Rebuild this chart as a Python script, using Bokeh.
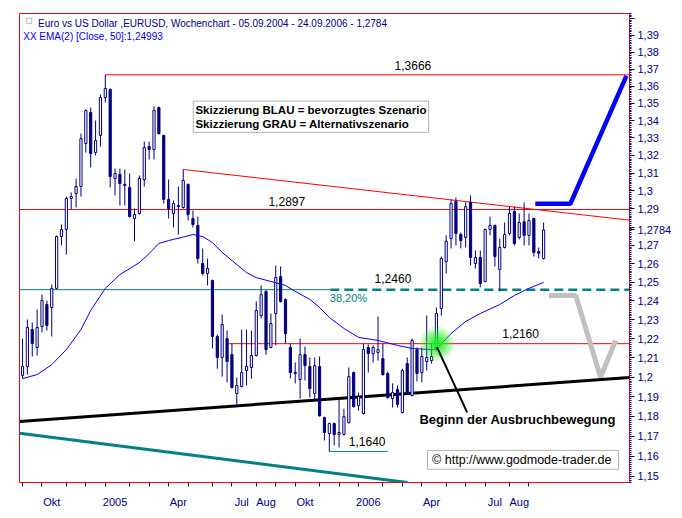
import numpy as np
import pandas as pd
from bokeh.plotting import figure
from bokeh.models import FixedTicker, Label, Range1d, BoxAnnotation
from bokeh.embed import file_html
from bokeh.resources import INLINE

# ---------------- data ----------------
week_start = "2004-09-05"
opens = [1.2008, 1.2055, 1.2248, 1.2154, 1.2264, 1.2381, 1.2365, 1.2467, 1.2748, 1.2787,
         1.2958, 1.2986, 1.3025, 1.3268, 1.3446, 1.3217, 1.3314, 1.3533, 1.3580, 1.3070,
         1.3093, 1.3037, 1.3020, 1.2847, 1.2875, 1.3064, 1.3251, 1.3234, 1.3475, 1.3314,
         1.2953, 1.2875, 1.2913, 1.2908, 1.3037, 1.2847, 1.2809, 1.2601, 1.2547, 1.2509,
         1.2212, 1.2102, 1.2201, 1.2117, 1.1916, 1.1952, 1.2034, 1.2050, 1.2112, 1.2322,
         1.2451, 1.2154, 1.2333, 1.2530, 1.2408, 1.2154, 1.2024, 1.1988, 1.2117, 1.2055,
         1.1916, 1.2055, 1.1793, 1.1713, 1.1763, 1.1708, 1.1708, 1.1768, 1.2024, 1.1854,
         1.1814, 1.2154, 1.2122, 1.2128, 1.2096, 1.2019, 1.1890, 1.1936, 1.1819, 1.2070,
         1.1906, 1.2143, 1.2024, 1.2081, 1.2086, 1.2143, 1.2360, 1.2612, 1.2737, 1.2941,
         1.2759, 1.2743, 1.2936, 1.2601, 1.2634, 1.2504, 1.2787, 1.2809, 1.2569, 1.2688,
         1.2765, 1.2886, 1.2743, 1.2830, 1.2754, 1.2847, 1.2666, 1.2628]
highs = [1.2201, 1.2301, 1.2285, 1.2354, 1.2434, 1.2402, 1.2488, 1.2754, 1.2814, 1.2969,
         1.2992, 1.3070, 1.3325, 1.3464, 1.3475, 1.3400, 1.3551, 1.3666, 1.3586, 1.3126,
         1.3126, 1.3121, 1.3098, 1.2902, 1.3087, 1.3279, 1.3279, 1.3481, 1.3481, 1.3319,
         1.3064, 1.2947, 1.3025, 1.3121, 1.3042, 1.2891, 1.2858, 1.2683, 1.2628, 1.2514,
         1.2222, 1.2328, 1.2243, 1.2175, 1.1998, 1.2248, 1.2248, 1.2243, 1.2397, 1.2483,
         1.2456, 1.2333, 1.2590, 1.2585, 1.2413, 1.2175, 1.2076, 1.2201, 1.2159, 1.2102,
         1.2102, 1.2107, 1.1798, 1.1768, 1.1768, 1.1885, 1.1839, 1.2050, 1.2029, 1.1921,
         1.2175, 1.2170, 1.2165, 1.2317, 1.2175, 1.2029, 1.1968, 1.1957, 1.2044, 1.2102,
         1.2201, 1.2154, 1.2154, 1.2322, 1.2175, 1.2365, 1.2639, 1.2754, 1.2953, 1.2964,
         1.2770, 1.2936, 1.2975, 1.2672, 1.2672, 1.2792, 1.2858, 1.2814, 1.2737, 1.2825,
         1.2913, 1.2913, 1.2875, 1.2936, 1.2875, 1.2852, 1.2688, 1.2825]
lows = [1.1993, 1.2013, 1.2107, 1.2112, 1.2233, 1.2243, 1.2212, 1.2461, 1.2699, 1.2650,
        1.2897, 1.2908, 1.2969, 1.3217, 1.3132, 1.3200, 1.3251, 1.3504, 1.3020, 1.2975,
        1.2919, 1.2919, 1.2852, 1.2721, 1.2869, 1.3025, 1.3177, 1.3177, 1.3319, 1.2930,
        1.2847, 1.2798, 1.2759, 1.2902, 1.2836, 1.2798, 1.2601, 1.2536, 1.2483, 1.2149,
        1.2044, 1.2003, 1.1973, 1.1941, 1.1860, 1.1947, 1.1957, 1.1993, 1.2107, 1.2307,
        1.2117, 1.2149, 1.2165, 1.2391, 1.2175, 1.1993, 1.1968, 1.1890, 1.1983, 1.1895,
        1.1880, 1.1798, 1.1678, 1.1625, 1.1653, 1.1643, 1.1703, 1.1763, 1.1844, 1.1829,
        1.1809, 1.2024, 1.2076, 1.2086, 1.2008, 1.1890, 1.1844, 1.1844, 1.1814, 1.1911,
        1.1901, 1.1978, 1.1973, 1.2034, 1.2070, 1.2138, 1.2322, 1.2547, 1.2683, 1.2699,
        1.2683, 1.2688, 1.2590, 1.2574, 1.2472, 1.2499, 1.2754, 1.2585, 1.2451, 1.2683,
        1.2754, 1.2699, 1.2732, 1.2699, 1.2699, 1.2639, 1.2628, 1.2623]
closes = [1.2055, 1.2259, 1.2175, 1.2259, 1.2402, 1.2270, 1.2467, 1.2748, 1.2787, 1.2958,
          1.2969, 1.3025, 1.3296, 1.3458, 1.3211, 1.3285, 1.3533, 1.3586, 1.3081, 1.3098,
          1.3042, 1.3031, 1.2858, 1.2869, 1.3070, 1.3245, 1.3234, 1.3458, 1.3325, 1.2953,
          1.2902, 1.2930, 1.2919, 1.3059, 1.2869, 1.2814, 1.2628, 1.2547, 1.2574, 1.2212,
          1.2102, 1.2275, 1.2081, 1.1947, 1.1957, 1.2024, 1.2055, 1.2112, 1.2349, 1.2434,
          1.2143, 1.2280, 1.2525, 1.2397, 1.2227, 1.2024, 1.2019, 1.2117, 1.2060, 1.1941,
          1.2060, 1.1803, 1.1718, 1.1763, 1.1708, 1.1718, 1.1798, 1.2003, 1.1849, 1.1901,
          1.2143, 1.2122, 1.2154, 1.2143, 1.2013, 1.1895, 1.1921, 1.1860, 1.2034, 1.1916,
          1.2191, 1.2019, 1.2107, 1.2102, 1.2107, 1.2333, 1.2628, 1.2721, 1.2930, 1.2765,
          1.2726, 1.2913, 1.2634, 1.2634, 1.2493, 1.2787, 1.2809, 1.2639, 1.2688, 1.2759,
          1.2875, 1.2710, 1.2825, 1.2754, 1.2836, 1.2661, 1.2656, 1.2784]

# EMA(50) (week index, value)
ema_idx = [0, 3, 6, 9, 12, 14, 17, 20, 24, 26, 28, 30, 33, 35, 37, 39, 41, 43, 46, 48,
           51, 54, 56, 59, 61, 63, 66, 69, 73, 77, 80, 84, 85, 87, 88, 91, 94, 98, 101, 104, 107]
ema_val = [1.1993, 1.2013, 1.2065, 1.2143, 1.2248, 1.2349, 1.2467, 1.2541, 1.2606, 1.2655,
           1.2710, 1.2726, 1.2745, 1.2759, 1.2748, 1.2715, 1.2661, 1.2617, 1.2552, 1.2525,
           1.2504, 1.2483, 1.2451, 1.2408, 1.2365, 1.2312, 1.2254, 1.2207, 1.2191, 1.2165,
           1.2149, 1.2143, 1.2146, 1.2201, 1.2227, 1.2291, 1.2333, 1.2381, 1.2429, 1.2467, 1.2499]

# drawn levels / trend lines (week index, price)
level_high = 1.3666
level_2897 = 1.2897
level_fibo = 1.2460
level_2160 = 1.2174
level_low = 1.1623
resist_x = [33.0, 124.64]
resist_y = [1.3121, 1.2838]
support_x = [-0.62, 124.64]
support_y = [1.1774, 1.1998]
lowteal_x = [-0.62, 79.0]
lowteal_y = [1.1714, 1.14687]
blue_x = [105.3, 112.5, 124.0]
blue_y = [1.2929, 1.2929, 1.3660]
gray_x = [108.1, 113.6, 118.7, 121.8]
gray_y = [1.2429, 1.2429, 1.2000, 1.2191]
arrow_x = [85.1, 91.3]
arrow_y = [1.2156, 1.1820]
glow_x = [85.1]
glow_y = [1.2174]

x_label_months = ["2004-10", "2005-01", "2005-04", "2005-07", "2005-08",
                  "2005-10", "2006-01", "2006-04", "2006-07", "2006-08"]
x_label_texts = ["Okt", "2005", "Apr", "Jul", "Aug", "Okt", "2006", "Apr", "Jul", "Aug"]

y_tick_values = [1.15, 1.16, 1.17, 1.18, 1.19, 1.20, 1.21, 1.22, 1.23, 1.24, 1.25, 1.26,
                 1.27, 1.2784, 1.28, 1.29, 1.30, 1.31, 1.32, 1.33, 1.34, 1.35, 1.36, 1.37,
                 1.38, 1.39, 1.40]
y_tick_labels = ["1,15", "1,16", "1,17", "1,18", "1,19", "1,2", "1,21", "1,22", "1,23", "1,24",
                 "1,25", "1,26", "1,27", "1,2784", "", "1,29", "1,3", "1,31", "1,32", "1,33",
                 "1,34", "1,35", "1,36", "1,37", "1,38", "1,39", ""]

# ---------------- styling ----------------
NAVY = "#000080"
RED = "#ff0000"
TEAL = "#008080"
FONT = "Liberation Sans"

n = len(closes)
dates = pd.date_range(week_start, periods=n, freq="7D")
xs = np.arange(n)

month_first = {}
for i, d in enumerate(dates):
    key = "%04d-%02d" % (d.year, d.month)
    if key not in month_first:
        month_first[key] = i
minor_x = [float(v) for v in month_first.values()]
major_x = [float(month_first[m] + 2) for m in x_label_months]

X0, X1 = -0.62, 124.64
p = figure(frame_width=610, frame_height=469, output_backend="svg", toolbar_location=None,
           y_axis_type="log", y_axis_location="right",
           x_range=Range1d(X0, X1), y_range=Range1d(1.14687, 1.40309),
           min_border_left=19, min_border_top=13, min_border_right=45, min_border_bottom=26,
           background_fill_color="white", border_fill_color="white")
p.outline_line_color = RED
p.outline_line_width = 1
p.xgrid.visible = False
p.ygrid.visible = False

# y axis (right)
ya = p.yaxis[0]
minor_y = [round(v, 3) for v in np.arange(1.147, 1.4035, 0.001)]
ya.ticker = FixedTicker(ticks=y_tick_values, minor_ticks=minor_y)
ya.major_label_overrides = {v: t for v, t in zip(y_tick_values, y_tick_labels)}
ya.axis_line_color = None
ya.major_tick_out = 5
ya.major_tick_in = 0
ya.minor_tick_out = 2
ya.minor_tick_in = 0
ya.major_tick_line_color = NAVY
ya.minor_tick_line_color = NAVY
ya.major_label_standoff = 3
ya.major_label_text_font = FONT
ya.major_label_text_font_size = "11px"
ya.major_label_text_color = NAVY

# x axis
xa = p.xaxis[0]
xa.ticker = FixedTicker(ticks=major_x, minor_ticks=minor_x)
xa.major_label_overrides = {v: t for v, t in zip(major_x, x_label_texts)}
xa.axis_line_color = None
xa.major_tick_line_color = None
xa.major_tick_out = 0
xa.major_tick_in = 0
xa.minor_tick_out = 4
xa.minor_tick_in = 0
xa.minor_tick_line_color = NAVY
xa.major_label_standoff = 9
xa.major_label_text_font = FONT
xa.major_label_text_font_size = "11px"
xa.major_label_text_color = NAVY

# ---------- drawn lines under candles ----------
p.line(lowteal_x, lowteal_y, line_color=TEAL, line_width=3)
p.line(support_x, support_y, line_color="black", line_width=3)
p.line([X0, 63.2], [level_fibo, level_fibo], line_color=TEAL, line_width=1)
p.line([63.2, X1], [level_fibo, level_fibo], line_color=TEAL, line_width=2.5, line_dash="9 5")
p.line([X0, X1], [level_2897, level_2897], line_color=RED, line_width=1)
p.line([17, X1], [level_high, level_high], line_color=RED, line_width=1)
p.line([42, X1], [level_2160, level_2160], line_color=RED, line_width=1)
p.line([62.9, 75.0], [level_low, level_low], line_color=TEAL, line_width=1)
p.line(resist_x, resist_y, line_color=RED, line_width=1)

# ---------- candles ----------
up = [c >= o for o, c in zip(opens, closes)]
tops = [max(o, c) for o, c in zip(opens, closes)]
bots = [min(o, c) for o, c in zip(opens, closes)]
fills = ["white" if u else NAVY for u in up]
p.segment(x0=xs, y0=highs, x1=xs, y1=lows, line_color=NAVY, line_width=1)
p.vbar(x=xs, width=0.45, top=tops, bottom=bots, fill_color=fills, line_color=NAVY, line_width=1)

# EMA
p.line(ema_idx, ema_val, line_color="#0000ff", line_width=1)

# scenario sketches
p.line(blue_x, blue_y, line_color="#0000ff", line_width=4.5)
p.line(gray_x, gray_y, line_color="#c0c0c0", line_width=5)

# green glow
for r, a in [(17, 0.18), (14, 0.22), (11, 0.3), (8, 0.4), (5, 0.6)]:
    p.circle(glow_x, glow_y, radius=r, radius_units="screen",
             fill_color="#22ee22", fill_alpha=a, line_color=None)
p.line(arrow_x, arrow_y, line_color="black", line_width=2)

# ---------- annotations ----------
def lab(x, y, text, size="12px", color="black", style="normal", yoff=0, **kw):
    p.add_layout(Label(x=x, y=y, text=text, text_font=FONT, text_font_size=size,
                       text_color=color, text_font_style=style, text_baseline="middle",
                       y_offset=yoff, **kw))

lab(76.4, level_high, "1,3666", yoff=9)
lab(50.5, level_2897, "1,2897", yoff=8)
lab(72.3, level_fibo, "1,2460", yoff=11)
lab(63.1, level_fibo, "38,20%", size="11px", color=TEAL, yoff=-8)
lab(98.5, level_2160, "1,2160", yoff=10)
lab(67.0, level_low, "1,1640", yoff=10)

p.add_layout(BoxAnnotation(left=35.05, right=83.4, bottom=1.3332, top=1.3512,
                           fill_color="white", fill_alpha=1, line_color="black", line_width=1))
lab(35.5, 1.3458, "Skizzierung BLAU = bevorzugtes Szenario", size="11.5px", style="bold")
lab(35.5, 1.3381, "Skizzierung GRAU = Alternativszenario", size="11.5px", style="bold")

lab(81.5, 1.1783, "Beginn der Ausbruchbewegung", size="13px", style="bold")

p.add_layout(BoxAnnotation(left=83.17, right=122.4, bottom=1.1534, top=1.1628,
                           fill_color="white", fill_alpha=1, line_color="black", line_width=1))
lab(84.1, 1.1580, "\u00a9 http://www.godmode-trader.de", size="12.5px")

# small legend icon before the title
p.add_layout(BoxAnnotation(left=0.75, right=1.9, bottom=1.3972, top=1.4003,
                           fill_color="white", fill_alpha=1, line_color=NAVY, line_width=1))
lab(3.2, 1.3969, "Euro vs US Dollar ,EURUSD, Wochenchart - 05.09.2004 - 24.09.2006 - 1,2784",
    size="10px", color=NAVY)
lab(0.15, 1.3893, "XX EMA(2) [Close, 50]:1,24993", size="10px", color="#0000ff")

open("out.html", "w").write(file_html(p, INLINE))
